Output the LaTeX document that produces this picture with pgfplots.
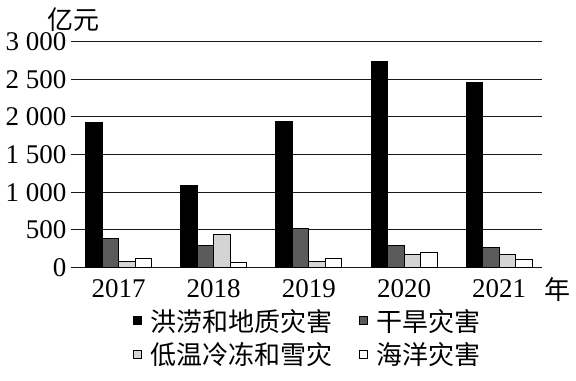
\documentclass[border=0pt]{standalone}
\usepackage{pgfplots}
\pgfplotsset{compat=1.18}
\usepackage{fontspec}
\setmainfont{Liberation Serif}
\newfontfamily\cjk{Noto Sans CJK SC}
\definecolor{drought}{HTML}{5A5A5A}
\definecolor{cold}{HTML}{D4D4D4}
\begin{document}
\begin{tikzpicture}[x=1bp,y=1bp]
\path[use as bounding box] (0,0) rectangle (576,380);
\begin{axis}[
  at={(71bp,112.5bp)}, anchor=south west,
  scale only axis, width=471bp, height=226bp,
  xmin=-0.5, xmax=4.45, ymin=0, ymax=3000,
  clip=false,
  axis line style={draw=none}, tick style={draw=none},
  major tick length=0pt,
  ymajorgrids, grid style={black!90, line width=1.3bp},
  xtick={0,1,2,3,4}, xticklabels={2017,2018,2019,2020,2021},
  ytick={0,500,1000,1500,2000,2500,3000},
  yticklabels={0,500,1\ 000,1\ 500,2\ 000,2\ 500,3\ 000},
  tick label style={font=\fontsize{27bp}{30bp}\selectfont},
  xticklabel style={yshift=-9bp},
  yticklabel style={xshift=-1bp},
  ybar=0pt, bar width=16.5bp,
  legend columns=2,
  legend style={draw=none, at={(0.125,-0.165)}, anchor=north west,
    font=\cjk\fontsize{26bp}{30bp}\selectfont, row sep=6bp,
    /tikz/every odd column/.append style={column sep=7bp},
    /tikz/every even column/.append style={column sep=24bp}},
  legend image code/.code={\draw[#1,line width=0.8bp] (0bp,-4bp) rectangle (8bp,4bp);},
]
\addplot[draw=black, fill=black, line width=0.8bp] coordinates {(0,1921) (1,1093) (2,1938) (3,2739) (4,2460)};
\addplot[draw=black, fill=drought, line width=0.8bp] coordinates {(0,381) (1,292) (2,513) (3,296) (4,265)};
\addplot[draw=black, fill=cold, line width=0.8bp] coordinates {(0,75) (1,438) (2,84) (3,172) (4,177)};
\addplot[draw=black, fill=white, line width=0.8bp] coordinates {(0,115) (1,62) (2,119) (3,199) (4,110)};
\legend{洪涝和地质灾害,干旱灾害,低温冷冻和雪灾,海洋灾害}
\end{axis}
\node[font=\cjk\fontsize{26bp}{30bp}\selectfont] at (73,360) {亿元};
\node[font=\cjk\fontsize{26bp}{30bp}\selectfont] at (557,90) {年};
\end{tikzpicture}
\end{document}
